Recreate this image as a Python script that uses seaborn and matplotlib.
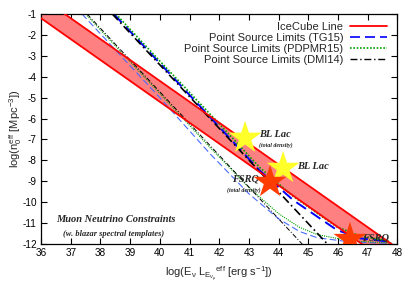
import numpy as np
import pandas as pd
import matplotlib
matplotlib.use("Agg")
import matplotlib.pyplot as plt
from matplotlib.lines import Line2D
import seaborn as sns

# --- data ---
# IceCube line band (log n0 = c - log L), edges at x = 36 and 48
band_x = [36.0, 48.0]
band_upper = [-0.2, -12.2]
band_lower = [-1.2, -13.2]

# point source limits, "bright" template group
tg15_a_x = [38.45, 40.0, 42.0, 43.37, 44.49, 45.39, 45.96, 46.74, 47.75]
tg15_a_y = [-1.0, -3.35, -6.4, -8.5, -9.9, -10.78, -11.33, -11.73, -11.89]
pdp_a_x = [38.52, 40.0, 42.0, 43.37, 44.49, 45.39, 45.96, 46.74, 47.75]
pdp_a_y = [-1.0, -3.25, -6.25, -8.35, -9.72, -10.62, -11.18, -11.62, -11.86]
dmi_a_x = [38.4, 45.64]
dmi_a_y = [-1.0, -12.0]

# point source limits, second template group
tg15_b_x = [37.38, 40.0, 41.7, 43.0, 44.0, 44.7, 45.3, 46.4, 47.8]
tg15_b_y = [-1.0, -5.0, -7.7, -9.6, -10.8, -11.4, -11.7, -11.9, -11.97]
pdp_b_x = [37.5, 40.0, 41.7, 43.0, 44.0, 44.7, 45.3, 46.4, 47.8]
pdp_b_y = [-1.0, -4.8, -7.4, -9.3, -10.55, -11.2, -11.55, -11.85, -11.95]
dmi_b_x = [37.55, 44.79]
dmi_b_y = [-1.0, -12.0]

# blazar points
bllac_x = [42.87, 44.15]
bllac_y = [-6.93, -8.37]
fsrq_x = [43.71, 46.4]
fsrq_y = [-9.04, -11.77]

legend_labels = ["IceCube Line", "Point Source Limits (TG15)",
                 "Point Source Limits (PDPMR15)", "Point Source Limits (DMI14)"]

RED = "#ff0000"
BLUE = "#0000ff"
GREEN = "#009e00"
BLACK = "#000000"

sns.set_style("ticks")
plt.rcParams["font.family"] = ["Liberation Sans", "DejaVu Sans"]
plt.rcParams["mathtext.fontset"] = "custom"
plt.rcParams["mathtext.rm"] = "Liberation Sans"
plt.rcParams["mathtext.it"] = "Liberation Sans:italic"
plt.rcParams["mathtext.default"] = "regular"

fig = plt.figure(figsize=(4.15, 2.91), dpi=100)
ax = fig.add_axes([0.0988, 0.1615, 0.8590, 0.7904])

# IceCube band
ax.fill_between(band_x, band_lower, band_upper, color="#ff8080", lw=0, zorder=1)

dash = (0, (6, 3))
dashdot = (0, (5, 2, 1, 2))
dot = (0, (1, 1))

def draw(xs, ys, color, ls, lw):
    sns.lineplot(x=xs, y=ys, ax=ax, color=color, linestyle=ls, lw=lw,
                 sort=False, estimator=None, zorder=2)

draw(tg15_b_x, tg15_b_y, "#4a6cff", dash, 0.8)
draw(pdp_b_x, pdp_b_y, GREEN, dot, 0.8)
draw(dmi_b_x, dmi_b_y, BLACK, dashdot, 0.7)
draw(tg15_a_x, tg15_a_y, BLUE, dash, 1.4)
draw(pdp_a_x, pdp_a_y, GREEN, dot, 1.2)
draw(dmi_a_x, dmi_a_y, BLACK, dashdot, 1.2)

sns.lineplot(x=band_x, y=band_upper, ax=ax, color=RED, lw=1.3, zorder=3)
sns.lineplot(x=band_x, y=band_lower, ax=ax, color=RED, lw=1.3, zorder=3)

sns.scatterplot(x=bllac_x, y=bllac_y, ax=ax, marker="*", s=620,
                color="#ffff2a", edgecolor="none", zorder=5)
sns.scatterplot(x=fsrq_x, y=fsrq_y, ax=ax, marker="*", s=620,
                color="#ff3c00", edgecolor="none", zorder=5)

# annotations
serif = dict(family=["Liberation Serif", "DejaVu Serif"], weight="bold", style="italic")
ax.text(43.35, -6.74, "BL Lac", fontsize=7.5, ha="left", va="center", **serif)
ax.text(43.35, -7.27, "(total density)", fontsize=4.3, ha="left", va="center", **serif)
ax.text(44.63, -8.27, "BL Lac", fontsize=7.5, ha="left", va="center", **serif)
ax.text(42.88, -8.89, "FSRQ", fontsize=7.5, ha="center", va="center", **serif)
ax.text(42.84, -9.44, "(total density)", fontsize=4.3, ha="center", va="center", **serif)
ax.text(46.82, -11.69, "FSRQ", fontsize=7.5, ha="left", va="center", **serif)
ax.text(38.53, -10.85, "Muon Neutrino Constraints", fontsize=7.5, ha="center", va="center", **serif)
ax.text(38.43, -11.52, "(w. blazar spectral templates)", fontsize=6.0, ha="center", va="center", **serif)

ax.set_xlim(36, 48)
ax.set_ylim(-12, -1)
ax.set_xticks(range(36, 49))
ax.set_yticks(range(-12, 0))
ax.set_yticklabels([str(v) for v in range(-12, 0)])
ax.tick_params(direction="in", top=True, right=True, length=4, width=0.8,
               labelsize=7.2, pad=3, colors="black")
for s in ax.spines.values():
    s.set_linewidth(0.9)
    s.set_color("black")

ax.set_xlabel(r"log(E$_\nu$ L$_{E_{\nu_\mu}}$$^{eff}$ [erg s$^{-1}$])", fontsize=8, labelpad=5)
ax.set_ylabel(r"log(n$_0^{eff}$ [Mpc$^{-3}$])", fontsize=8, labelpad=-1.5)

handles = [Line2D([], [], color=RED, lw=1.3),
           Line2D([], [], color=BLUE, lw=1.2, linestyle=dash),
           Line2D([], [], color=GREEN, lw=1.2, linestyle=dot),
           Line2D([], [], color=BLACK, lw=1.0, linestyle=dashdot)]
ax.legend(handles, legend_labels, loc="upper right", frameon=False, markerfirst=False,
          fontsize=8, handlelength=3.3, labelspacing=0.1, borderaxespad=0.1,
          handletextpad=0.6, bbox_to_anchor=(0.985, 0.99))

fig.savefig("out.png", dpi=100)
